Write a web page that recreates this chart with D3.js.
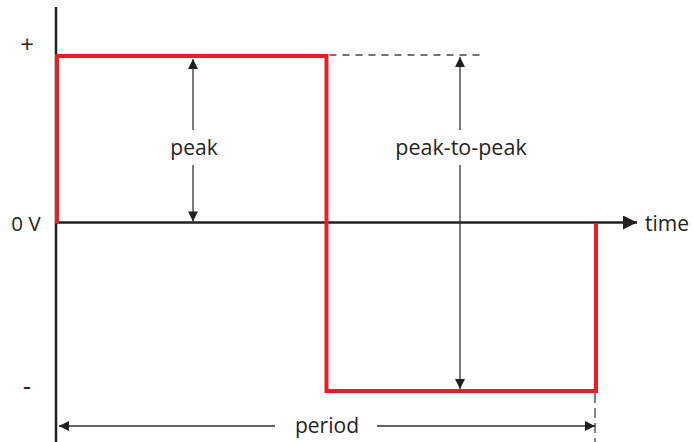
<!DOCTYPE html>
<html>
<head>
<meta charset="utf-8">
<script src="https://cdn.jsdelivr.net/npm/d3@7"></script>
<style>
  body { margin: 0; background: #fff; }
  text { font-family: "Open Sans", sans-serif; fill: #231f20; }
</style>
</head>
<body>
<script>
// Square wave, one period (time 0..1, voltage -1..1)
var waveTime  = [0, 0, 0.5, 0.5, 1, 1];
var waveVolts = [0, 1, 1, -1, -1, 0];

// Labels on the voltage side
var levelLabels = ["+", "0 V", "-"];
var levelValues = [1, 0, -1];

var width = 693, height = 442;

var x = d3.scaleLinear().domain([0, 1]).range([57, 596]);
var y = d3.scaleLinear().domain([-1, 1]).range([391, 56]);

var svg = d3.select("body").append("svg")
    .attr("width", width)
    .attr("height", height);

// Arrowhead markers
var defs = svg.append("defs");
defs.append("marker")
    .attr("id", "head")
    .attr("viewBox", "0 -5 10 10")
    .attr("refX", 10).attr("refY", 0)
    .attr("markerUnits", "userSpaceOnUse")
    .attr("markerWidth", 16).attr("markerHeight", 10)
    .attr("orient", "auto-start-reverse")
    .append("path")
    .attr("d", "M0,-5L10,0L0,5Z")
    .attr("fill", "#231f20");
defs.append("marker")
    .attr("id", "bigHead")
    .attr("viewBox", "0 -5 10 10")
    .attr("refX", 10).attr("refY", 0)
    .attr("markerUnits", "userSpaceOnUse")
    .attr("markerWidth", 25).attr("markerHeight", 14)
    .attr("orient", "auto")
    .append("path")
    .attr("d", "M0,-5L10,0L0,5Z")
    .attr("fill", "#231f20");

// Vertical (voltage) axis
svg.append("line")
    .attr("x1", x(0) - 1).attr("x2", x(0) - 1)
    .attr("y1", 7).attr("y2", height)
    .attr("stroke", "#231f20")
    .attr("stroke-width", 2.5);

// Time axis with arrow
svg.append("line")
    .attr("x1", x(0) - 1).attr("x2", 637)
    .attr("y1", y(0) - 1).attr("y2", y(0) - 1)
    .attr("stroke", "#231f20")
    .attr("stroke-width", 2.5)
    .attr("marker-end", "url(#bigHead)");

svg.append("text")
    .attr("x", 645).attr("y", y(0) + 7)
    .attr("font-size", 21)
    .text("time");

// Level labels
var levelSize = [24, 20.5, 26];
var levelShift = [8, 7, 4];
svg.selectAll(".level")
    .data(levelLabels)
    .enter()
    .append("text")
    .attr("class", "level")
    .attr("x", (d, i) => i == 1 ? 26 : 27)
    .attr("y", (d, i) => y(levelValues[i]) - (i == 0 ? 11 : 0) + levelShift[i])
    .attr("text-anchor", "middle")
    .attr("font-size", (d, i) => levelSize[i])
    .text(d => d);

// Dashed guides
svg.append("line")
    .attr("x1", x(0.5) + 3).attr("x2", 482)
    .attr("y1", y(1) - 1).attr("y2", y(1) - 1)
    .attr("stroke", "#444")
    .attr("stroke-width", 1.3)
    .attr("stroke-dasharray", "7,6");
svg.append("line")
    .attr("x1", x(1) - 1).attr("x2", x(1) - 1)
    .attr("y1", y(-1) + 2).attr("y2", height)
    .attr("stroke", "#333")
    .attr("stroke-width", 1.2)
    .attr("stroke-dasharray", "10,5");

// The wave
var line = d3.line()
    .x((d, i) => x(waveTime[i]))
    .y((d, i) => y(waveVolts[i]));

svg.append("path")
    .attr("d", line(waveTime))
    .attr("fill", "none")
    .attr("stroke", "#ed1c24")
    .attr("stroke-width", 4)
    .attr("stroke-linejoin", "miter");

// Dimension arrows: two segments with a gap for the label
function dimension(x1, y1, x2, y2, gapA, gapB, vertical) {
    var g = svg.append("g")
        .attr("stroke", "#333")
        .attr("stroke-width", 1.3);
    if (vertical) {
        g.append("line").attr("x1", x1).attr("x2", x1).attr("y1", gapA).attr("y2", y1)
            .attr("marker-end", "url(#head)");
        g.append("line").attr("x1", x1).attr("x2", x1).attr("y1", gapB).attr("y2", y2)
            .attr("marker-end", "url(#head)");
    } else {
        g.append("line").attr("y1", y1).attr("y2", y1).attr("x1", gapA).attr("x2", x1)
            .attr("marker-end", "url(#head)");
        g.append("line").attr("y1", y1).attr("y2", y1).attr("x1", gapB).attr("x2", x2)
            .attr("marker-end", "url(#head)");
    }
}

// peak
dimension(193, y(1) + 3, 193, y(0) - 2, 130, 165, true);
svg.append("text")
    .attr("x", 194).attr("y", 155)
    .attr("text-anchor", "middle")
    .attr("font-size", 21)
    .text("peak");

// peak-to-peak
dimension(460, y(1) + 1, 460, y(-1) - 2, 130, 165, true);
svg.append("text")
    .attr("x", 461).attr("y", 155)
    .attr("text-anchor", "middle")
    .attr("font-size", 21.5)
    .text("peak-to-peak");

// period
dimension(x(0) + 2, 426, x(1) - 1, 426, 275, 377, false);
svg.append("text")
    .attr("x", 327).attr("y", 433)
    .attr("text-anchor", "middle")
    .attr("font-size", 21)
    .text("period");
</script>
</body>
</html>
